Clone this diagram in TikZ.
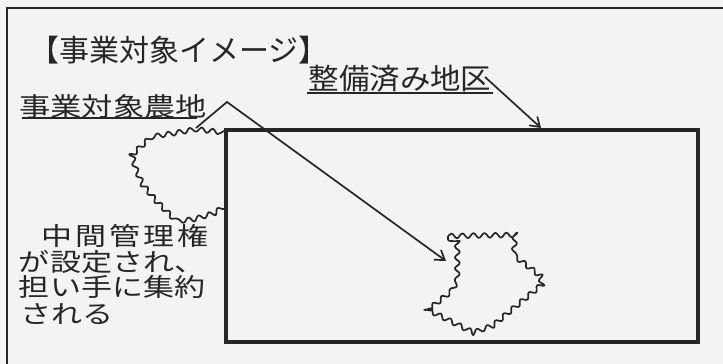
\documentclass[tikz,border=0pt]{standalone}
\usepackage{fontspec}
\newfontfamily\jpA{Noto Sans CJK JP}
\newfontfamily\jpB[FakeStretch=1.05]{Noto Sans CJK JP}
\newfontfamily\jpC[FakeStretch=1.2]{Noto Sans CJK JP}
\newfontfamily\jpD[FakeStretch=1.24]{Noto Sans CJK JP}
\usetikzlibrary{arrows.meta,decorations.pathmorphing}
\definecolor{ink}{HTML}{262626}
\definecolor{paper}{HTML}{F3F3F1}
\begin{document}
\begin{tikzpicture}[x=1pt,y=-1pt,
  lbl/.style={inner sep=0pt, outer sep=0pt, text=ink},
  frameline/.style={draw=ink, line width=2.5pt},
  plotbox/.style={draw=ink, line width=3.2pt},
  uline/.style={draw=ink, line width=1.8pt},
  leader/.style={draw=ink, line width=1.7pt, -{Straight Barb[length=9pt,width=12pt,line width=1.7pt]}},
  wavy/.style={draw=ink, line width=1.7pt, line join=round, decorate, decoration={snake, segment length=11pt, amplitude=2.4pt}}
  ]
\fill[paper] (0,0) rectangle (723,364);
\useasboundingbox (0,0) rectangle (723,364);
% outer frame (cut off at right and bottom)
\draw[frameline] (7,364) -- (7,8) -- (723,8);
% target area
\draw[plotbox] (226,130) rectangle (698,342);
% texts
\node[lbl] (title) at (179,50) {\jpA\fontsize{30pt}{32pt}\selectfont 【事業対象イメージ】};
\node[lbl] (lblA) at (400,79) {\jpB\fontsize{29pt}{31pt}\selectfont 整備済み地区};
\node[lbl] (lblB) at (113,107) {\jpC\fontsize{26pt}{28pt}\selectfont 事業対象農地};
\node[lbl, anchor=west] (t1) at (41,236) {\jpD\fontsize{25pt}{27pt}\selectfont\makebox[168pt][s]{中\hfill 間\hfill 管\hfill 理\hfill 権}};
\node[lbl, anchor=west] (t2) at (19,262) {\jpD\fontsize{25pt}{27pt}\selectfont が設定され、};
\node[lbl, anchor=west] (t3) at (19,287) {\jpD\fontsize{25pt}{27pt}\selectfont 担い手に集約};
\node[lbl, anchor=west] (t4) at (20,314) {\jpD\fontsize{25pt}{27pt}\selectfont される};
% underlines
\draw[uline] (307,93) -- (493,93);
\draw[uline] (22,118) -- (197,118);
% blob 1 (left)
\draw[wavy] (226,205) -- (216,212) -- (196,218) -- (180,220) -- (160,200) -- (145,182) -- (138,166) -- (134,152) -- (152,135) -- (178,131) -- (200,127) -- (226,130);
% blob 2 (inside area)
\draw[wavy] (448,236) -- (512,235) -- (511,260) -- (537,280) -- (539,292) -- (490,333) -- (470,340) -- (430,320) -- (418,313) -- (443,293) -- (448,283) -- cycle;
% leaders
\coordinate (aTail) at (485,77);
\coordinate (aHead) at (541,128);
\draw[leader] (aTail) -- (aHead);
\coordinate (bStart) at (196,128);
\coordinate (bPeak) at (227,102);
\coordinate (bHead) at (446,261);
\draw[leader] (bStart) -- (bPeak) -- (bHead);
\end{tikzpicture}
\end{document}
